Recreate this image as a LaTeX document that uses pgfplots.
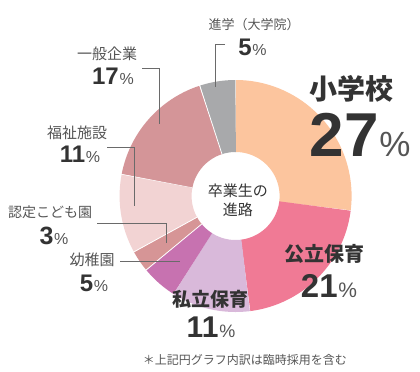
\documentclass[border=0pt]{standalone}
\usepackage{fontspec}
\usepackage{pgfplots}
\pgfplotsset{compat=1.18}
\setmainfont{Noto Sans CJK JP}
\newfontfamily\jp{Noto Sans CJK JP}
\newfontfamily\numfont{Liberation Sans}
\definecolor{cA}{HTML}{FCC59E}
\definecolor{cB}{HTML}{F07A95}
\definecolor{cC}{HTML}{D9B9DA}
\definecolor{cD}{HTML}{C772B0}
\definecolor{cE}{HTML}{D69596}
\definecolor{cF}{HTML}{F2D3D3}
\definecolor{cG}{HTML}{D49598}
\definecolor{cH}{HTML}{A8A9AB}
\definecolor{dark}{HTML}{333333}
\definecolor{lab}{HTML}{555555}
\definecolor{pct}{HTML}{555555}
\definecolor{lead}{HTML}{6A6A6A}
\newcommand{\fs}[1]{\fontsize{#1bp}{#1bp}\selectfont}
\newcommand{\pc}[3]{{\numfont\bfseries\fs{#1}#3}\hspace{0.8bp}{\numfont\fs{#2}\color{pct}\%}}
\begin{document}
\begin{tikzpicture}
\begin{axis}[scale only axis, width=420bp, height=372bp,
  xmin=0, xmax=420, ymin=0, ymax=372, y dir=reverse,
  axis lines=none, clip=false, every axis plot/.append style={no marks}]
% donut sectors (percent: 27,21,11,5,3,11,17,5), clockwise from top
\addplot[draw=cA, line width=72bp, domain=-7.2:90, samples=120] ({235.6+80*cos(x)},{196-80*sin(x)});
\addplot[draw=cB, line width=72bp, domain=-82.8:-7.2, samples=100] ({235.6+80*cos(x)},{196-80*sin(x)});
\addplot[draw=cC, line width=72bp, domain=-122.4:-82.8, samples=60] ({235.6+80*cos(x)},{196-80*sin(x)});
\addplot[draw=cD, line width=72bp, domain=-140.4:-122.4, samples=30] ({235.6+80*cos(x)},{196-80*sin(x)});
\addplot[draw=cE, line width=72bp, domain=-151.2:-140.4, samples=20] ({235.6+80*cos(x)},{196-80*sin(x)});
\addplot[draw=cF, line width=72bp, domain=-190.8:-151.2, samples=60] ({235.6+80*cos(x)},{196-80*sin(x)});
\addplot[draw=cG, line width=72bp, domain=-252:-190.8, samples=80] ({235.6+80*cos(x)},{196-80*sin(x)});
\addplot[draw=cH, line width=72bp, domain=-270:-252, samples=30] ({235.6+80*cos(x)},{196-80*sin(x)});
% white separators
\addplot[white, line width=0.8pt] coordinates {(222.0,154.15) (199.45,84.72)};
\addplot[white, line width=0.8pt] coordinates {(197.04,217.2) (133.07,252.37)};
\addplot[white, line width=0.8pt] coordinates {(201.7,224.05) (145.45,270.58)};
\addplot[white, line width=0.5pt] coordinates {(192.38,187.75) (120.67,174.07)};
% leader lines
\addplot[lead, line width=0.6pt] coordinates {(225,44) (215.6,44) (215.6,87)};
\addplot[lead, line width=0.6pt] coordinates {(142,68) (159,68) (159,124)};
\addplot[lead, line width=0.6pt] coordinates {(107,147) (134.6,147) (134.6,206)};
\addplot[lead, line width=0.6pt] coordinates {(97,223) (166,223) (166,243)};
\addplot[lead, line width=0.6pt] coordinates {(120,261) (180,261)};
\path (axis cs:0,0) rectangle (axis cs:420,372);
% labels
\node[inner sep=0, text=lab, font=\jp\fs{13}] at (axis cs:254,24.6) {進学（大学院）};
\node[inner sep=0, anchor=base, text=dark] at (axis cs:252.5,55) {\pc{24}{16}{5}};
\node[inner sep=0, text=lab, font=\jp\fs{15}] at (axis cs:107,54) {一般企業};
\node[inner sep=0, anchor=base, text=dark] at (axis cs:113,84.7) {\pc{24}{16}{17}};
\node[inner sep=0, text=lab, font=\jp\fs{15}] at (axis cs:77,132.7) {福祉施設};
\node[inner sep=0, anchor=base, text=dark] at (axis cs:80,162.7) {\pc{24}{16}{11}};
\node[inner sep=0, text=lab, font=\jp\fs{14}] at (axis cs:50,212.4) {認定こども園};
\node[inner sep=0, anchor=base, text=dark] at (axis cs:54,244) {\pc{25}{16}{3}};
\node[inner sep=0, text=lab, font=\jp\fs{15}] at (axis cs:92,260) {幼稚園};
\node[inner sep=0, anchor=base, text=dark] at (axis cs:94,291.5) {\pc{24}{16}{5}};
\node[inner sep=0, text=dark, font=\jp\bfseries\fs{19}] at (axis cs:210,299) {私立保育};
\node[inner sep=0, anchor=base, text=dark] at (axis cs:211,337) {\pc{30}{18}{11}};
\node[inner sep=0, text=dark, font=\jp\bfseries\fs{20}] at (axis cs:324.5,254) {公立保育};
\node[inner sep=0, anchor=base, text=dark] at (axis cs:329,297.6) {\pc{33}{21}{21}};
\node[inner sep=0, text=dark, font=\jp\bfseries\fs{28}] at (axis cs:351.7,89) {小学校};
\node[inner sep=0, anchor=base, text=dark] at (axis cs:360,156.6) {\pc{62}{35}{27}};
\node[inner sep=0, text=dark, font=\jp\fs{15}] at (axis cs:237.8,190.7) {卒業生の};
\node[inner sep=0, text=dark, font=\jp\fs{15}] at (axis cs:237.8,210) {進路};
\node[inner sep=0, text=lab, font=\jp\fs{12}] at (axis cs:245,359.5) {＊上記円グラフ内訳は臨時採用を含む};
\end{axis}
\end{tikzpicture}
\end{document}
